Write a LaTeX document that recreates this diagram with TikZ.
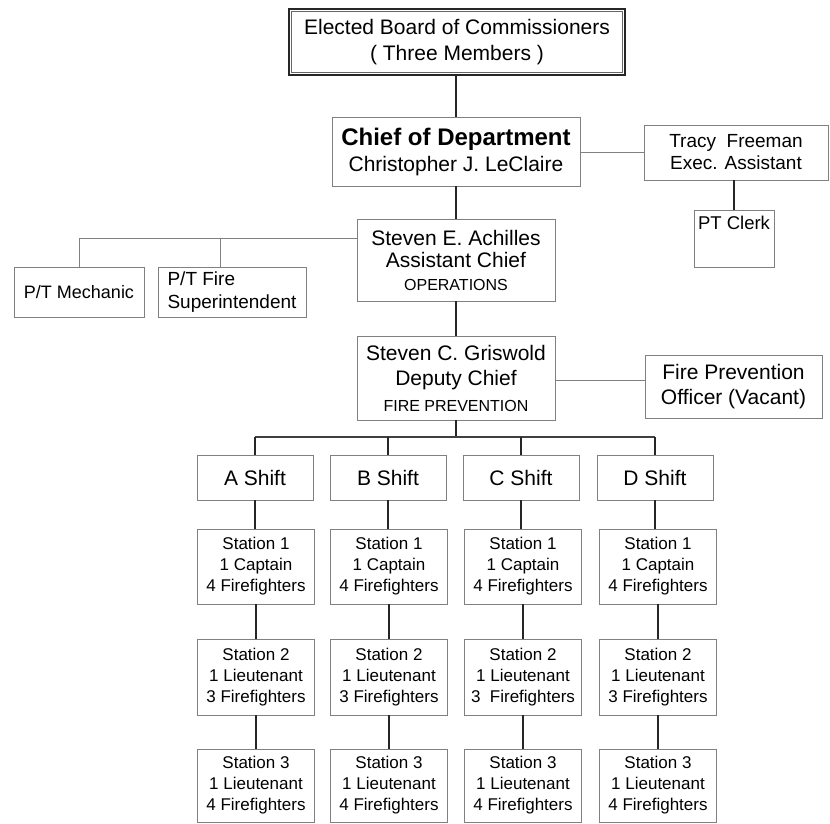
\documentclass[tikz,border=0pt]{standalone}
\usepackage{fontspec}
\setmainfont{Liberation Sans}
\newcommand\myfs[2]{\fontsize{#1}{#2}\selectfont}
\begin{document}
\begin{tikzpicture}[x=1pt,y=-1pt,
  box/.style={draw=black!50, line width=0.8pt, inner sep=0pt, align=center, text=black},
  shiftbox/.style={box, minimum width=116pt, minimum height=45pt, font=\myfs{21}{25}},
  stationbox/.style={box, minimum width=117pt, font=\myfs{17}{21}},
  vline/.style={draw=black!85, line width=1.3pt},
  busline/.style={draw=black!75, line width=1.1pt},
  hline/.style={draw=black!50, line width=0.8pt}]
\useasboundingbox (0,0) rectangle (830,823);

% top
\node[box, draw=black!85, line width=2pt, minimum width=336pt, minimum height=66pt, font=\myfs{21}{26}] (board) at (457,42) {Elected Board of Commissioners\\( Three Members )};
\draw[line width=0.8pt, black!60] ([shift={(3.5,3.5)}]board.north west) rectangle ([shift={(-3.5,-3.5)}]board.south east);

\node[box, minimum width=248pt, minimum height=69pt, font=\myfs{21}{26}] (chief) at (456,151.5) {{\myfs{24}{26}\bfseries Chief of Department}\\Christopher J. LeClaire};
\node[box, minimum width=184pt, minimum height=55pt, font=\myfs{19}{22}] (tracy) at (736,152.5) {Tracy~~Freeman\\Exec. Assistant};
\node[box, minimum width=80pt, minimum height=57pt,
  label={[anchor=north, yshift=-6pt, inner sep=0pt, font=\myfs{18.5}{22}]north:PT Clerk}] (pt) at (734,238.5) {};

\node[box, minimum width=198pt, minimum height=82pt, font=\myfs{21}{22.5}] (ach) at (456,260) {Steven E. Achilles\\Assistant Chief\\{\myfs{16}{22.5}OPERATIONS}};
\node[box, minimum width=130pt, minimum height=50pt, font=\myfs{18}{22}] (mech) at (79,292) {P/T Mechanic};
\node[box, align=left, minimum width=148pt, minimum height=50pt, font=\myfs{19}{23}] (fire) at (232,292) {P/T Fire\\Superintendent};

\node[box, minimum width=198pt, minimum height=84pt, font=\myfs{21}{25.5}] (gris) at (456,378) {Steven C. Griswold\\Deputy Chief\\{\myfs{16}{25.5}FIRE PREVENTION}};
\node[box, minimum width=177pt, minimum height=63pt, font=\myfs{21}{25}] (fp) at (733.5,386.5) {Fire Prevention\\Officer (Vacant)};

% shifts
\node[shiftbox] (shA) at (255,477.5) {A Shift};
\node[shiftbox] (shB) at (388,477.5) {B Shift};
\node[shiftbox] (shC) at (521,477.5) {C Shift};
\node[shiftbox] (shD) at (655,477.5) {D Shift};

% stations
\node[stationbox, minimum height=75pt] (aA) at (256,566.5) {Station 1\\1 Captain\\4 Firefighters};
\node[stationbox, minimum height=75pt] (aB) at (389,566.5) {Station 1\\1 Captain\\4 Firefighters};
\node[stationbox, minimum height=75pt] (aC) at (523,566.5) {Station 1\\1 Captain\\4 Firefighters};
\node[stationbox, minimum height=75pt] (aD) at (658,566.5) {Station 1\\1 Captain\\4 Firefighters};

\node[stationbox, minimum height=76pt] (bA) at (256,677) {Station 2\\1 Lieutenant\\3 Firefighters};
\node[stationbox, minimum height=76pt] (bB) at (389,677) {Station 2\\1 Lieutenant\\3 Firefighters};
\node[stationbox, minimum height=76pt] (bC) at (523,677) {Station 2\\1 Lieutenant\\3~ Firefighters};
\node[stationbox, minimum height=76pt] (bD) at (658,677) {Station 2\\1 Lieutenant\\3 Firefighters};

\node[stationbox, minimum height=73pt] (cA) at (256,785.5) {Station 3\\1 Lieutenant\\4 Firefighters};
\node[stationbox, minimum height=73pt] (cB) at (389,785.5) {Station 3\\1 Lieutenant\\4 Firefighters};
\node[stationbox, minimum height=73pt] (cC) at (523,785.5) {Station 3\\1 Lieutenant\\4 Firefighters};
\node[stationbox, minimum height=73pt] (cD) at (658,785.5) {Station 3\\1 Lieutenant\\4 Firefighters};

% connectors
\draw[vline] (chief.north |- board.south) -- (chief.north);
\draw[vline] (chief.south) -- (ach.north);
\draw[vline] (ach.south) -- (gris.north);
\draw[hline] (tracy.west -| chief.east) -- (tracy.west);
\draw[vline] (tracy.south -| pt.north) -- (pt.north);

\coordinate (br) at ([yshift=22pt]ach.west);
\draw[hline] (br) -| (mech.north);
\coordinate (fd) at ([xshift=-12pt]fire.north);
\draw[hline] (fd |- br) -- (fd);

\coordinate (fpw) at ([yshift=6pt]fp.west);
\draw[hline] (gris.east |- fpw) -- (fpw);

\coordinate (bus) at (456,437);
\draw[vline] (gris.south) -- (bus);
\draw[busline] (shA.north |- bus) -- (shD.north |- bus);
\foreach \c in {A,B,C,D}{
  \draw[vline] (sh\c.north |- bus) -- (sh\c.north);
  \draw[vline] (sh\c.south) -- (sh\c.south |- a\c.north);
  \draw[vline] (a\c.south) -- (b\c.north);
  \draw[vline] (b\c.south) -- (c\c.north);
}
\end{tikzpicture}
\end{document}
